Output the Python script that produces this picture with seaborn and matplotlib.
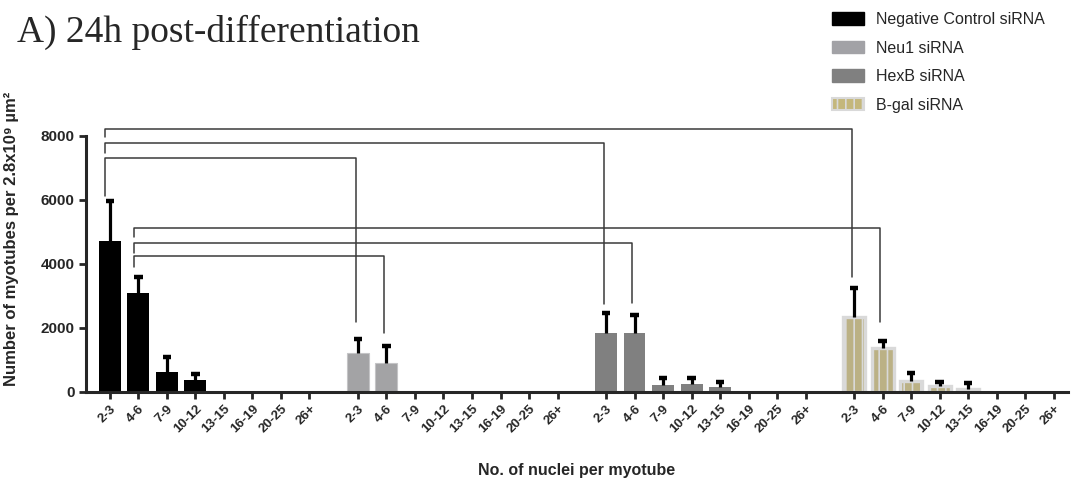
import numpy as np
import pandas as pd
import matplotlib
matplotlib.use("Agg")
import matplotlib.pyplot as plt
from matplotlib.patches import Patch
import seaborn as sns

# nuclei-per-myotube bins, repeated for each siRNA group
bins = ["2-3", "4-6", "7-9", "10-12", "13-15", "16-19", "20-25", "26+"]
groups = ["Negative Control siRNA", "Neu1 siRNA", "HexB siRNA", "B-gal siRNA"]

nc_mean = [4730, 3100, 635, 375, 0, 0, 0, 0]
nc_err = [1240, 500, 455, 185, 0, 0, 0, 0]
neu1_mean = [1210, 900, 0, 0, 0, 0, 0, 0]
neu1_err = [445, 540, 0, 0, 0, 0, 0, 0]
hexb_mean = [1833, 1833, 218, 250, 167, 0, 0, 0]
hexb_err = [625, 567, 212, 200, 143, 0, 0, 0]
bgal_mean = [2340, 1380, 340, 180, 90, 0, 0, 0]
bgal_err = [920, 210, 250, 140, 200, 0, 0, 0]

means = [nc_mean, neu1_mean, hexb_mean, bgal_mean]
errs = [nc_err, neu1_err, hexb_err, bgal_err]

colors = ["#000000", "#a2a2a6", "#808080", "#c4b77c"]
group_step = 8.7  # spacing between groups, in bin units

# significance brackets: (from group, from bin, to group, to bin, height, left end, right end)
brackets = [
    (0, 0, 3, 0, 8220, 7970, 3600),
    (0, 0, 2, 0, 7780, 7470, 2750),
    (0, 0, 1, 0, 7310, 6125, 2200),
    (0, 1, 3, 1, 5125, 4840, 2190),
    (0, 1, 2, 1, 4656, 4350, 2780),
    (0, 1, 1, 1, 4250, 3915, 1850),
]

rows = []
for g, name in enumerate(groups):
    for i, b in enumerate(bins):
        rows.append({"group": name, "bin": b, "pos": g * group_step + i,
                     "value": means[g][i], "err": errs[g][i]})
df = pd.DataFrame(rows)
plot_df = df[df.value > 0]

sns.set_style("ticks")
plt.rcParams["font.family"] = ["Liberation Sans", "DejaVu Sans"]
plt.rcParams["hatch.linewidth"] = 1.2

fig = plt.figure(figsize=(10.91, 4.92), dpi=100)
ax = fig.add_axes([0.0788, 0.2033, 0.9, 0.5203])

sns.barplot(data=plot_df, x="pos", y="value", hue="group", hue_order=groups,
            palette=colors, native_scale=True, dodge=False, width=0.77,
            errorbar=None, legend=False, ax=ax, linewidth=0)

# style B-gal bars: khaki fill, light grey rim and stripes
for bar in ax.containers[3]:
    bar.set_edgecolor("#d9d9d9")
    bar.set_linewidth(2.4)
    bar.set_hatch("||")
for bar in ax.containers[1]:
    bar.set_edgecolor("#c4c4c6")
    bar.set_linewidth(0.8)

# upper error bars
e = plot_df
ax.vlines(e.pos, e.value, e.value + e.err, color="black", lw=2.3, zorder=4)
ax.hlines(e.value + e.err, e.pos - 0.15, e.pos + 0.15, color="black", lw=3.2, zorder=4)

# brackets
for g0, i0, g1, i1, h, lo, ro in brackets:
    x0 = g0 * group_step + i0 - 0.17
    x1 = g1 * group_step + i1 - 0.08
    ax.plot([x0, x0, x1, x1], [lo, h, h, ro], color="#3a3a3a", lw=1.1,
            clip_on=False, zorder=5)

ax.set_xlim(-0.84, 33.6)
ax.set_ylim(0, 8000)
ax.set_yticks([0, 2000, 4000, 6000, 8000])
ax.set_xticks(df.pos)
ax.set_xticklabels(df.bin, rotation=45, ha="right", rotation_mode="anchor",
                   fontsize=9.5, fontweight="bold")
for lab in ax.get_yticklabels():
    lab.set_fontweight("bold")
    lab.set_fontsize(11)

sns.despine(ax=ax)
ax.spines["left"].set_linewidth(2.2)
ax.spines["bottom"].set_linewidth(2.2)
ax.tick_params(axis="both", width=2.0, length=5, direction="out", pad=3)

ax.set_xlabel("No. of nuclei per myotube", fontsize=11.5, fontweight="bold", labelpad=20)
ax.set_ylabel("Number of myotubes per 2.8x10⁹ µm²", fontsize=12, fontweight="bold")
ax.yaxis.set_label_coords(-0.068, 0.6)

fig.text(0.016, 0.915, "A) 24h post-differentiation", fontsize=27,
         family="Liberation Serif", va="baseline")

handles = [Patch(facecolor=colors[0], edgecolor=colors[0]),
           Patch(facecolor=colors[1], edgecolor=colors[1]),
           Patch(facecolor=colors[2], edgecolor=colors[2]),
           Patch(facecolor=colors[3], edgecolor="#d9d9d9", hatch="||", linewidth=1.5)]
fig.legend(handles, groups, loc="upper left", bbox_to_anchor=(0.752, 1.0),
           frameon=False, fontsize=11.5, handlelength=2.0, handleheight=0.8,
           labelspacing=0.85, handletextpad=0.75, borderpad=0.25)

fig.savefig("out.png", dpi=100)
